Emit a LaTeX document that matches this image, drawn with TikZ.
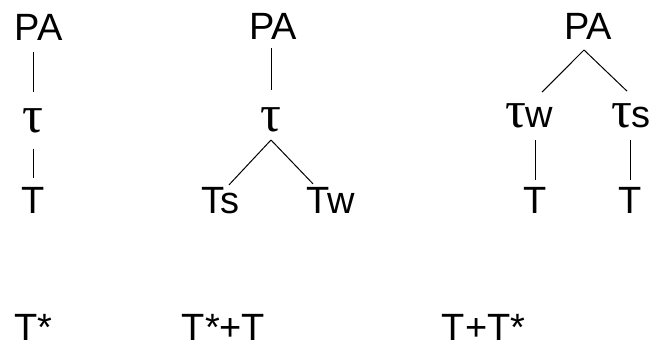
\documentclass[tikz,border=0pt]{standalone}
\usepackage{fontspec}
\setmainfont{Liberation Sans}
\newfontfamily\taufont{Liberation Serif}
\usetikzlibrary{calc}
\newcommand{\tauch}{{\taufont\fontsize{52}{52}\selectfont τ}}
\tikzset{
  lbl/.style={inner sep=0pt, outer sep=0pt, anchor=base, font=\fontsize{38}{42}\selectfont},
  lblw/.style={lbl, anchor=base west},
  branch/.style={line width=1pt, black}
}
\begin{document}
\begin{tikzpicture}[x=1pt,y=-1pt]
\useasboundingbox (0,0) rectangle (653,347);
% tree 1
\node[lbl] (pa1) at (38.5,41) {PA};
\node[lbl] (tau1) at (33,133) {\tauch};
\node[lbl] (t1) at (33,214) {T};
\draw[branch, shorten <=11pt, shorten >=17pt] (pa1.south -| tau1.north) -- (tau1.north);
\draw[branch, shorten <=15pt, shorten >=10pt] (tau1.south) -- (t1.north);
% tree 2
\node[lbl] (pa2) at (273,40) {PA};
\node[lbl] (tau2) at (271,132) {\tauch};
\node[lbl] (ts2) at (220.5,214) {Ts};
\node[lbl] (tw2) at (330.5,214) {Tw};
\draw[branch, shorten <=8pt, shorten >=18pt] (pa2.south -| tau2.north) -- (tau2.north);
\draw[branch] ($(tau2.base)+(0,8)$) -- ($(ts2.north)+(8.5,-3)$);
\draw[branch] ($(tau2.base)+(0,8)$) -- ($(tw2.north)+(-17.5,-4)$);
% tree 3
\node[lbl] (pa3) at (588,40) {PA};
\node[lblw] (tw3) at (505,128) {\tauch w};
\node[lblw] (ts3) at (611,128) {\tauch s};
\node[lbl] (t3a) at (535,214) {T};
\node[lbl] (t3b) at (630,214) {T};
\draw[branch] ($(pa3.base)+(-4,10)$) -- ($(tw3.north west)+(37,-12)$);
\draw[branch] ($(pa3.base)+(-4,10)$) -- ($(ts3.north west)+(16,-13)$);
\draw[branch, shorten <=12pt, shorten >=8pt] (t3a.north |- tw3.base) -- (t3a.north);
\draw[branch, shorten <=12pt, shorten >=8pt] (t3b.north |- ts3.base) -- (t3b.north);
% bottom labels
\node[lbl] (b1) at (33,340) {T*};
\node[lbl] (b2) at (223.5,340) {T*+T};
\node[lbl] (b3) at (483.5,340) {T+T*};
\end{tikzpicture}
\end{document}
